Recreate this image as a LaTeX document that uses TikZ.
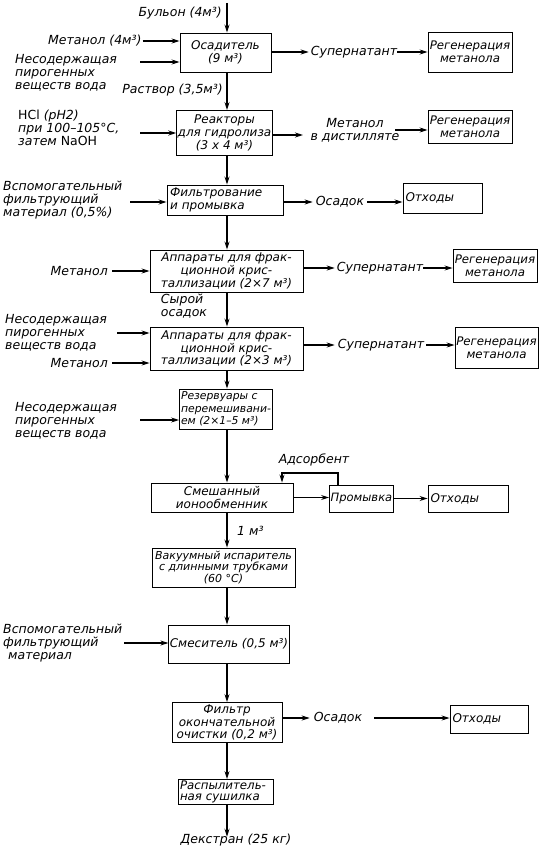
\documentclass[tikz,border=0pt]{standalone}
\usepackage{fontspec}
\setmainfont{DejaVu Sans}
\usetikzlibrary{arrows.meta}
\begin{document}
\begin{tikzpicture}[x=1pt,y=-1pt,
  every node/.style={font=\itshape\fontsize{12}{12.8}\selectfont},
  box/.style={draw, line width=0.9pt, inner sep=1pt, align=center},
  lbox/.style={box, align=left},
  lbl/.style={inner sep=0pt, align=left, font=\itshape\fontsize{12.5}{13}\selectfont},
  clbl/.style={lbl, align=center},
  arr/.style={line width=1.2pt, -{Stealth[length=8pt,width=5pt]}}]
\useasboundingbox (0,0) rectangle (541,851);
\coordinate (ax) at (227,0);

% ---------- Row 1: Osaditel
\node[box, minimum width=91pt, minimum height=39pt] (b1) at (225.5,52.5) {Осадитель\\(9 м³)};
\node[lbl, anchor=east] (bul) at (222,13) {Бульон (4м³)};
\coordinate (top) at (227,3);
\draw[arr] (top) -- (b1.north -| top);
\node[lbl, anchor=west] (met1) at (48,41) {Метанол (4м³)};
\draw[arr] ([xshift=1pt]met1.east) -- (b1.west |- met1.east);
\node[lbl, anchor=north west] (w1) at (15,54) {Несодержащая\\пирогенных\\веществ вода};
\coordinate (w1a) at (140,62);
\draw[arr] (w1a) -- (b1.west |- w1a);
\node[clbl] (sup1) at (354,52) {Супернатант};
\node[box, minimum width=84pt, minimum height=40pt, font=\itshape\fontsize{11.8}{12.8}\selectfont] (r1) at (470,52) {Регенерация\\метанола};
\draw[arr] (b1.east |- sup1) -- ([xshift=-2pt]sup1.west);
\draw[arr] (sup1.east) -- (r1.west |- sup1);

% ---------- Row 2: Reactors
\node[lbl, anchor=east] (rast) at (223,90) {Раствор (3,5м³)};
\node[box, minimum width=93pt, minimum height=45pt] (b2) at (224.5,133) {Реакторы\\для гидролиза\\(3 x 4 м³)};
\draw[arr] (b1.south -| ax) -- (b2.north -| ax);
\node[lbl, anchor=north west] (hcl) at (18,110) {{\upshape HCl} (pH2)\\при 100–105°C,\\затем {\upshape NaOH}};
\coordinate (hcla) at (140,133);
\draw[arr] (hcla) -- (b2.west |- hcla);
\node[clbl] (md) at (355,130) {Метанол\\в дистилляте};
\node[box, minimum width=84pt, minimum height=33pt, font=\itshape\fontsize{11.8}{12.8}\selectfont] (r2) at (470,126.5) {Регенерация\\метанола};
\coordinate (m2a) at (303,135);
\draw[arr] (b2.east |- m2a) -- (m2a);
\coordinate (m2b) at (395,130);
\draw[arr] (m2b) -- (r2.west |- m2b);

% ---------- Row 3: Filtration
\node[lbox, minimum width=116pt, minimum height=30pt, text width=110pt] (b3) at (225,200) {Фильтрование\\и промывка};
\draw[arr] (b2.south -| ax) -- (b3.north -| ax);
\node[lbl, anchor=north west] (f3) at (3,181) {Вспомогательный\\фильтрующий\\материал (0,5\%)};
\coordinate (f3a) at (130,202);
\draw[arr] (f3a) -- (b3.west |- f3a);
\node[clbl] (os1) at (340,202) {Осадок};
\node[lbox, minimum width=79pt, minimum height=30pt, text width=74pt] (oth1) at (442.5,198) {Отходы};
\draw[arr] (b3.east |- os1) -- ([xshift=-3pt]os1.west);
\draw[arr] ([xshift=3pt]os1.east) -- (oth1.west |- os1);

% ---------- Row 4: crystallisation 1
\node[box, minimum width=153pt, minimum height=42pt] (b4) at (226.5,271) {Аппараты для фрак-\\ционной крис-\\таллизации (2×7 м³)};
\draw[arr] (b3.south -| ax) -- (b4.north -| ax);
\node[lbl, anchor=east] (met4) at (108,271) {Метанол};
\draw[arr] ([xshift=4pt]met4.east) -- (b4.west |- met4.east);
\node[clbl] (sup4) at (380,268) {Супернатант};
\node[box, minimum width=84pt, minimum height=33pt, font=\itshape\fontsize{11.8}{12.8}\selectfont] (r4) at (495,265.5) {Регенерация\\метанола};
\draw[arr] (b4.east |- sup4) -- ([xshift=-2pt]sup4.west);
\draw[arr] (sup4.east) -- (r4.west |- sup4);
\node[lbl] (syr) at (184,306) {Сырой\\осадок};

% ---------- Row 5: crystallisation 2
\node[box, minimum width=153pt, minimum height=43pt] (b5) at (226.5,348.5) {Аппараты для фрак-\\ционной крис-\\таллизации (2×3 м³)};
\draw[arr] (b4.south -| ax) -- (b5.north -| ax);
\node[lbl, anchor=north west] (w5) at (5,314) {Несодержащая\\пирогенных\\веществ вода};
\coordinate (w5a) at (117,333);
\draw[arr] (w5a) -- (b5.west |- w5a);
\node[lbl, anchor=east] (met5) at (108,363) {Метанол};
\draw[arr] ([xshift=4pt]met5.east) -- (b5.west |- met5.east);
\node[clbl] (sup5) at (381,345) {Супернатант};
\node[box, minimum width=83pt, minimum height=41pt, font=\itshape\fontsize{11.8}{12.8}\selectfont] (r5) at (496.5,347.5) {Регенерация\\метанола};
\draw[arr] (b5.east |- sup5) -- ([xshift=-3pt]sup5.west);
\draw[arr] ([xshift=2pt]sup5.east) -- (r5.west |- sup5);

% ---------- Row 6: reservoirs
\node[lbox, minimum width=93pt, minimum height=40pt, font=\itshape\fontsize{10.8}{12.3}\selectfont] (b6) at (226,409) {Резервуары с\\перемешивани-\\ем (2×1–5 м³)};
\draw[arr] (b5.south -| ax) -- (b6.north -| ax);
\node[lbl, anchor=north west] (w6) at (15,402) {Несодержащая\\пирогенных\\веществ вода};
\coordinate (w6a) at (140,420);
\draw[arr] (w6a) -- (b6.west |- w6a);

% ---------- Row 7: ion exchanger
\node[box, minimum width=142pt, minimum height=29pt] (b7) at (222,497.5) {Смешанный\\ионообменник};
\draw[arr] (b6.south -| ax) -- (b7.north -| ax);
\node[lbox, minimum width=64pt, minimum height=27pt, font=\itshape\fontsize{11.5}{12.5}\selectfont] (pr) at (361.5,498.5) {Промывка};
\node[lbox, minimum width=80pt, minimum height=27pt, text width=75pt] (oth2) at (468,498.5) {Отходы};
\draw[arr] (b7.east) -- (pr.west |- b7.east);
\draw[arr] (pr.east) -- (oth2.west);
\coordinate (fb1) at (338,473);
\coordinate (fb2) at (282,473);
\draw[arr] (pr.north -| fb1) -- (fb1) -- (fb2) -- (b7.north -| fb2);
\node[clbl] (ads) at (314,460) {Адсорбент};
\node[lbl, anchor=west] (m1) at (237,531) {1 м³};

% ---------- Row 8: evaporator
\node[box, minimum width=143pt, minimum height=39pt, font=\itshape\fontsize{11}{11.3}\selectfont] (b8) at (223.5,567.5) {Вакуумный испаритель\\с длинными трубками\\(60 °C)};
\draw[arr] (b7.south -| ax) -- (b8.north -| ax);

% ---------- Row 9: mixer
\node[box, minimum width=118pt, minimum height=38pt] (b9) at (229,644) {Смеситель (0,5 м³)};
\draw[arr] (b8.south -| ax) -- (b9.north -| ax);
\node[lbl, anchor=north west] (f9) at (3,624) {Вспомогательный\\фильтрующий\\\hspace*{5pt}материал};
\coordinate (f9a) at (124,643);
\draw[arr] (f9a) -- (b9.west |- f9a);

% ---------- Row 10: final filter
\node[box, minimum width=110pt, minimum height=40pt] (b10) at (227,722.5) {Фильтр\\окончательной\\очистки (0,2 м³)};
\draw[arr] (b9.south -| ax) -- (b10.north -| ax);
\node[clbl] (os3) at (338,718) {Осадок};
\node[lbox, minimum width=78pt, minimum height=28pt, text width=73pt] (oth3) at (489,719) {Отходы};
\draw[arr] (b10.east |- os3) -- ([xshift=-4pt]os3.west);
\draw[arr] ([xshift=12pt]os3.east) -- (oth3.west |- os3);

% ---------- Row 11: spray dryer
\node[lbox, minimum width=95pt, minimum height=25pt, text width=91pt, font=\itshape\fontsize{11.8}{11.8}\selectfont] (b11) at (225.5,792) {Распылитель-\\ная сушилка};
\draw[arr] (b10.south -| ax) -- (b11.north -| ax);
\node[clbl] (dex) at (236,840) {Декстран (25 кг)};
\draw[arr] (b11.south -| ax) -- ([yshift=-3pt]dex.north -| ax);
\end{tikzpicture}
\end{document}
